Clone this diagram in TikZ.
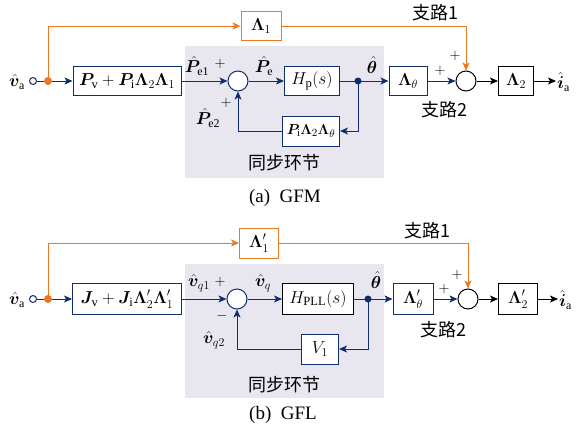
\documentclass[tikz,border=0pt]{standalone}
\usepackage{amsmath}
\usepackage{bm}
\usepackage{fontspec}
\setmainfont{Liberation Serif}
\newfontfamily\cjk{Noto Sans CJK SC}
\usetikzlibrary{arrows.meta,calc}
\definecolor{navy}{HTML}{0F2E6E}
\definecolor{orng}{HTML}{EE7722}
\definecolor{graybg}{HTML}{E8E6EE}
\tikzset{
  blk/.style={draw=navy, line width=1pt, fill=white, minimum height=29pt, inner sep=0.5pt, font=\fontsize{18}{20}\selectfont},
  kblk/.style={blk, draw=black},
  oblk/.style={blk, draw=orng},
  sumc/.style={circle, draw=black, line width=1pt, fill=white, minimum size=20pt, inner sep=0pt},
  nsum/.style={sumc, draw=navy},
  tip/.style={-{Stealth[length=8pt,width=7pt,inset=2pt]}},
  nline/.style={draw=navy, line width=1pt},
  oline/.style={draw=orng, line width=1pt},
  kline/.style={draw=black, line width=1pt},
  lab/.style={inner sep=0pt, font=\fontsize{17}{20}\selectfont},
  sgn/.style={inner sep=0pt, font=\fontsize{14}{16}\selectfont},
  cn/.style={inner sep=0pt, font=\cjk\fontsize{18}{20}\selectfont},
  captext/.style={inner sep=0pt, font=\fontsize{19}{22}\selectfont},
}
\begin{document}
\begin{tikzpicture}[x=1pt,y=-1pt]
\useasboundingbox (0,0) rectangle (576,432);
% ===== panel (a) =====
\fill[graybg] (185,46) rectangle (384,178);
\node[lab] (vaA) at (17,82) {$\hat{\bm{v}}_{\mathrm{a}}$};
\node[circle, draw=navy, line width=1pt, fill=white, minimum size=7pt, inner sep=0pt] (inA) at (33,81) {};
\node[circle, fill=orng, minimum size=8pt, inner sep=0pt] (dA) at (48,81) {};
\node[blk, minimum width=108pt] (bA) at (127,81) {$\bm{P}_{\mathrm{v}}+\bm{P}_{\mathrm{i}}\bm{\Lambda}_2\bm{\Lambda}_1$};
\node[oblk, minimum width=40pt] (L1A) at (261,26) {$\bm{\Lambda}_1$};
\node[nsum] (s1A) at (238,81) {};
\node[blk, minimum width=55pt] (HpA) at (312,81) {$H_{\mathrm{p}}(s)$};
\coordinate (jA) at (358,81);
\node[blk, minimum width=38pt] (LtA) at (408,81) {$\bm{\Lambda}_{\theta}$};
\node[sumc] (s2A) at (466,81) {};
\node[kblk, minimum width=35pt] (L2A) at (516,81) {$\bm{\Lambda}_2$};
\coordinate (eA) at (556,81);
\node[lab, anchor=west] (iaA) at (557,82) {$\hat{\bm{i}}_{\mathrm{a}}$};
\node[blk, minimum width=57pt, minimum height=30pt, font=\fontsize{15}{17}\selectfont] (fbA) at (311,131) {$\bm{P}_{\mathrm{i}}\bm{\Lambda}_2\bm{\Lambda}_{\theta}$};
\draw[nline] (inA) -- (dA);
\draw[nline, tip] (dA) -- (bA);
\draw[oline, tip] (dA) |- (L1A);
\draw[oline, tip] (L1A) -| (s2A);
\draw[nline, tip] (bA) -- (s1A);
\draw[nline, tip] (s1A) -- (HpA);
\draw[nline] (HpA) -- (jA);
\draw[nline, tip] (jA) -- (LtA);
\draw[nline, tip] (LtA) -- (s2A);
\draw[kline, tip] (s2A) -- (L2A);
\draw[kline, tip] (L2A) -- (eA);
\draw[nline, tip] (jA) |- (fbA);
\draw[nline, tip] (fbA) -| (s1A);
\fill[navy] (jA) circle (3.5pt);
\node[lab] (pe1) at (197,66) {$\hat{\bm{P}}_{\mathrm{e1}}$};
\node[sgn] (pA1) at (220,64) {$+$};
\node[lab] (pe) at (264,66) {$\hat{\bm{P}}_{\mathrm{e}}$};
\node[sgn] (pA2) at (226,103) {$+$};
\node[lab] (pe2) at (208,118) {$\hat{\bm{P}}_{\mathrm{e2}}$};
\node[lab] (thA) at (372,65) {$\hat{\bm{\theta}}$};
\node[sgn] (pA3) at (440,71) {$+$};
\node[sgn] (pA4) at (455,56) {$+$};
\node[cn] (br1A) at (435,13) {支路1};
\node[cn] (br2A) at (444,110) {支路2};
\node[cn] (syA) at (284,163) {同步环节};
\node[captext] (capA) at (285,198) {(a)\ \ GFM};
% ===== panel (b) =====
\fill[graybg] (185,264) rectangle (384,398);
\node[lab] (vaB) at (17,300) {$\hat{\bm{v}}_{\mathrm{a}}$};
\node[circle, draw=navy, line width=1pt, fill=white, minimum size=7pt, inner sep=0pt] (inB) at (33,299) {};
\node[circle, fill=orng, minimum size=8pt, inner sep=0pt] (dB) at (48,299) {};
\node[blk, minimum width=109pt, minimum height=31pt] (bB) at (127,299) {$\bm{J}_{\mathrm{v}}+\bm{J}_{\mathrm{i}}\bm{\Lambda}'_2\bm{\Lambda}'_1$};
\node[oblk, minimum width=39pt, minimum height=30pt] (L1B) at (259,243) {$\bm{\Lambda}'_1$};
\node[nsum] (s1B) at (237,299) {};
\node[kblk, minimum width=71pt, minimum height=31pt] (HB) at (318,299) {$H_{\mathrm{PLL}}(s)$};
\coordinate (jB) at (368,299);
\node[blk, minimum width=40pt, minimum height=31pt] (LtB) at (413,299) {$\bm{\Lambda}'_{\theta}$};
\node[sumc] (s2B) at (468,299) {};
\node[kblk, minimum width=39pt, minimum height=31pt] (L2B) at (518,299) {$\bm{\Lambda}'_2$};
\coordinate (eB) at (558,299);
\node[lab, anchor=west] (iaB) at (559,300) {$\hat{\bm{i}}_{\mathrm{a}}$};
\node[blk, minimum width=37pt, minimum height=30pt] (fbB) at (320,349) {$V_1$};
\draw[nline] (inB) -- (dB);
\draw[nline, tip] (dB) -- (bB);
\draw[oline, tip] (dB) |- (L1B);
\draw[oline, tip] (L1B) -| (s2B);
\draw[nline, tip] (bB) -- (s1B);
\draw[nline, tip] (s1B) -- (HB);
\draw[nline] (HB) -- (jB);
\draw[nline, tip] (jB) -- (LtB);
\draw[nline, tip] (LtB) -- (s2B);
\draw[kline, tip] (s2B) -- (L2B);
\draw[kline, tip] (L2B) -- (eB);
\draw[nline, tip] (jB) |- (fbB);
\draw[nline, tip] (fbB) -| (s1B);
\fill[navy] (jB) circle (3.5pt);
\node[lab] (vq1) at (199,283) {$\hat{\bm{v}}_{q1}$};
\node[sgn] (pB1) at (220,282) {$+$};
\node[lab] (vq) at (263,283) {$\hat{\bm{v}}_{q}$};
\node[sgn] (mB) at (222,316) {$-$};
\node[lab] (vq2) at (214,340) {$\hat{\bm{v}}_{q2}$};
\node[lab] (thB) at (376,280) {$\hat{\bm{\theta}}$};
\node[sgn] (pB3) at (444,289) {$+$};
\node[sgn] (pB4) at (457,275) {$+$};
\node[cn] (br1B) at (427,231) {支路1};
\node[cn] (br2B) at (443,330) {支路2};
\node[cn] (syB) at (284,385) {同步环节};
\node[captext] (capB) at (283,415) {(b)\ \ GFL};
\end{tikzpicture}
\end{document}
